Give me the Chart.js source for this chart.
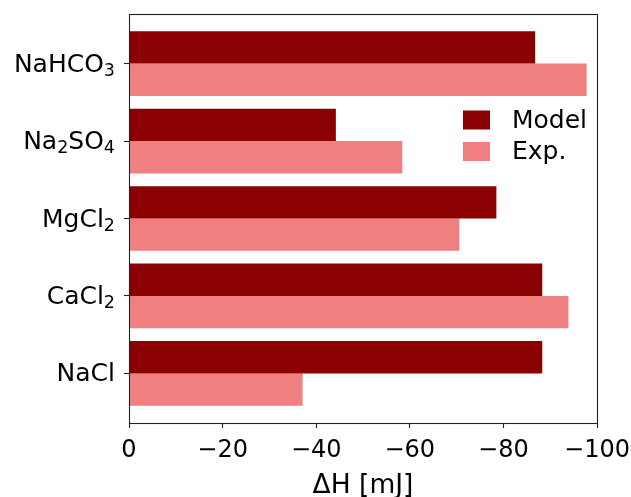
<!DOCTYPE html>
<html>
<head>
<meta charset="utf-8">
<script src="https://cdn.jsdelivr.net/npm/chart.js@4/dist/chart.umd.min.js"></script>
<style>
  html, body { margin: 0; padding: 0; background: #fff; }
  #wrap { width: 631px; height: 497px; }
</style>
</head>
<body>
<div id="wrap"><canvas id="c" width="631" height="497"></canvas></div>
<script>
// Salts, listed bottom to top; digits are drawn as subscripts
const salts = ['NaCl', 'CaCl2', 'MgCl2', 'Na2SO4', 'NaHCO3'];
// Enthalpy change per salt, mJ
const modelValues = [-88.3, -88.3, -78.5, -44.2, -86.8];
const expValues   = [-37.1, -93.9, -70.6, -58.4, -97.8];
const xTicks = [0, -20, -40, -60, -80, -100];
const seriesNames = ['Model', 'Exp.'];

const FONT = 'DejaVu Sans';
const colors = ['#8b0000', '#f08080'];
const LABEL_SIZE = 25;

// Split a formula into runs of normal text and subscript digits
function formulaRuns(s) {
  return s.match(/\d+|\D+/g).map(t => ({ text: t, sub: /\d/.test(t) }));
}

// Box frame, chemical-formula tick labels and legend
const framePlugin = {
  id: 'frame',
  afterDatasetsDraw(chart) {
    const {ctx, chartArea: a} = chart;
    ctx.save();
    ctx.strokeStyle = '#222';
    ctx.lineWidth = 1.1;
    ctx.strokeRect(Math.round(a.left) + 0.5, Math.round(a.top) + 0.5,
                   Math.round(a.right - a.left), Math.round(a.bottom - a.top));
    ctx.restore();
  },
  afterDraw(chart) {
    const {ctx, chartArea: a} = chart;
    const yScale = chart.scales.y;
    ctx.save();
    ctx.fillStyle = '#000';
    ctx.textBaseline = 'alphabetic';
    ctx.textAlign = 'left';
    const mainFont = LABEL_SIZE + 'px "' + FONT + '"';
    const subFont = (LABEL_SIZE * 0.7) + 'px "' + FONT + '"';
    const rightX = a.left - 14;
    yScale.ticks.forEach(t => {
      const label = salts[t.value];
      if (label === undefined) return;
      const runs = formulaRuns(label);
      let total = 0;
      runs.forEach(r => {
        ctx.font = r.sub ? subFont : mainFont;
        r.w = ctx.measureText(r.text).width;
        total += r.w;
      });
      const base = yScale.getPixelForValue(t.value) + 8;
      let x = rightX - total;
      runs.forEach(r => {
        ctx.font = r.sub ? subFont : mainFont;
        ctx.fillText(r.text, x, r.sub ? base + 4 : base);
        x += r.w;
      });
    });

    ctx.font = '25px "' + FONT + '"';
    ctx.textBaseline = 'middle';
    const bx = a.right - 134;
    chart.data.datasets.forEach((ds, i) => {
      const cy = a.top + 106 + i * 31.5;
      ctx.fillStyle = ds.backgroundColor;
      ctx.fillRect(bx, cy - 9.5, 27, 19);
      ctx.fillStyle = '#000';
      ctx.fillText(ds.label, bx + 49, cy + 1);
    });
    ctx.restore();
  }
};

new Chart(document.getElementById('c'), {
  type: 'bar',
  data: {
    datasets: [
      { label: seriesNames[0], data: modelValues.map((v, i) => ({x: v, y: i})), backgroundColor: colors[0] },
      { label: seriesNames[1], data: expValues.map((v, i) => ({x: v, y: i})), backgroundColor: colors[1] }
    ]
  },
  options: {
    indexAxis: 'y',
    responsive: false,
    animation: false,
    devicePixelRatio: 1,
    layout: { padding: { top: 14, right: 34, left: 0, bottom: 0 } },
    datasets: { bar: { categoryPercentage: 0.835, barPercentage: 1.0, borderWidth: 0 } },
    plugins: { legend: { display: false }, tooltip: { enabled: false } },
    scales: {
      x: {
        type: 'linear',
        min: -100, max: 0,
        reverse: true,
        afterBuildTicks(scale) { scale.ticks = xTicks.map(v => ({ value: v })); },
        afterFit(scale) {
          scale.height = 74;
          scale.paddingLeft = 0;
          scale.paddingRight = 0;
        },
        grid: { drawOnChartArea: false, drawTicks: true, tickLength: 5, tickColor: '#222', tickWidth: 1.1 },
        border: { display: false },
        ticks: {
          padding: 8,
          color: '#000',
          font: { family: FONT, size: 24 },
          maxRotation: 0,
          callback: v => v === 0 ? '0' : '\u2212' + Math.abs(v)
        },
        title: {
          display: true,
          text: 'ΔH [mJ]',
          color: '#000',
          font: { family: FONT, size: 26.5 },
          padding: { top: 0, bottom: -5 }
        }
      },
      y: {
        type: 'linear',
        min: -0.64, max: 4.64,
        offset: false,
        afterBuildTicks(scale) { scale.ticks = salts.map((s, i) => ({ value: i })); },
        afterFit(scale) {
          scale.width = 129;
          scale.paddingTop = 0;
          scale.paddingBottom = 0;
        },
        grid: { offset: false, drawOnChartArea: false, drawTicks: true, tickLength: 5, tickColor: '#222', tickWidth: 1.1 },
        border: { display: false },
        ticks: { display: false }
      }
    }
  },
  plugins: [framePlugin]
});
</script>
</body>
</html>
